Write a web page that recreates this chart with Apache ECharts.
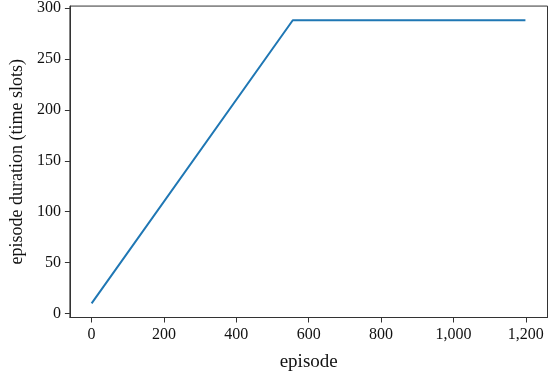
<!DOCTYPE html>
<html>
<head>
<meta charset="utf-8">
<script src="https://cdn.jsdelivr.net/npm/echarts@6/dist/echarts.min.js"></script>
<style>html,body{margin:0;padding:0;background:#fff}#c{width:550px;height:377px}</style>
</head>
<body>
<div id="c"></div>
<script>
// key points of the line (episode, duration)
const episodes = [0, 556, 1199];
const durations = [10, 288, 288];
const xTicks = [0, 200, 400, 600, 800, 1000, 1200];
const yTicks = [0, 50, 100, 150, 200, 250, 300];
const xTitle = 'episode';
const yTitle = 'episode duration (time slots)';

const font = "'Liberation Serif', 'DejaVu Serif', serif";
const chart = echarts.init(document.getElementById('c'), null, {renderer: 'canvas'});
chart.setOption({
  animation: false,
  backgroundColor: '#fff',
  grid: {left: 67, top: 6, right: 2.5, bottom: 59.5, show: true, borderColor: '#333', borderWidth: 1},
  xAxis: {
    type: 'value', min: -60, max: 1260,
    name: xTitle, nameLocation: 'middle', nameGap: 35,
    nameTextStyle: {fontFamily: font, fontSize: 19, color: '#111'},
    axisLine: {show: true, onZero: false, lineStyle: {color: '#333', width: 1}},
    axisTick: {show: true, length: 5, lineStyle: {color: '#333'}, customValues: xTicks},
    axisLabel: {fontFamily: font, fontSize: 16, color: '#111', margin: 9, customValues: xTicks,
      formatter: v => v.toLocaleString('en-US')},
    splitLine: {show: false}
  },
  yAxis: {
    type: 'value', min: -3.9, max: 301.9,
    name: yTitle, nameLocation: 'middle', nameGap: 43, nameRotate: 90,
    nameTextStyle: {fontFamily: font, fontSize: 18, color: '#111'},
    axisLine: {show: true, onZero: false, lineStyle: {color: '#333', width: 1}},
    axisTick: {show: true, length: 5, lineStyle: {color: '#333'}, customValues: yTicks},
    axisLabel: {fontFamily: font, fontSize: 16, color: '#111', margin: 9, customValues: yTicks},
    splitLine: {show: false}
  },
  series: [{
    type: 'line',
    data: episodes.map((e, i) => [e, durations[i]]),
    showSymbol: false,
    lineStyle: {color: '#1f77b4', width: 2},
    itemStyle: {color: '#1f77b4'}
  }]
});
</script>
</body>
</html>
